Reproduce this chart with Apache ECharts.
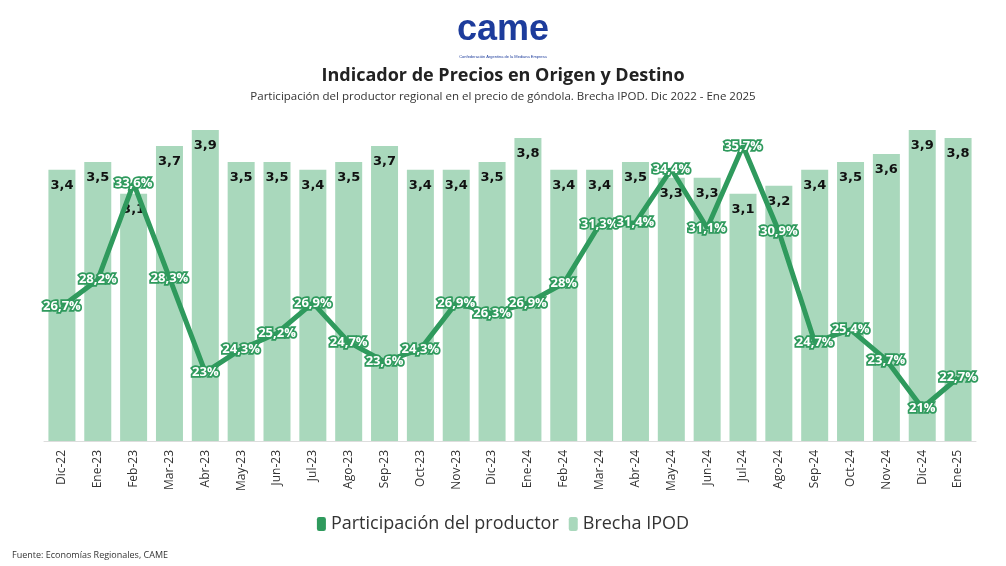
<!DOCTYPE html>
<html>
<head>
<meta charset="utf-8">
<script src="https://cdn.jsdelivr.net/npm/echarts@6/dist/echarts.min.js"></script>
<style>html,body{margin:0;padding:0;background:#fff}#c{width:1006px;height:566px}</style>
</head>
<body>
<div id="c"></div>
<script>
const categories = ["Dic-22","Ene-23","Feb-23","Mar-23","Abr-23","May-23","Jun-23","Jul-23","Ago-23","Sep-23","Oct-23","Nov-23","Dic-23","Ene-24","Feb-24","Mar-24","Abr-24","May-24","Jun-24","Jul-24","Ago-24","Sep-24","Oct-24","Nov-24","Dic-24","Ene-25"];
const brechaIPOD = [3.4,3.5,3.1,3.7,3.9,3.5,3.5,3.4,3.5,3.7,3.4,3.4,3.5,3.8,3.4,3.4,3.5,3.3,3.3,3.1,3.2,3.4,3.5,3.6,3.9,3.8];
const participacion = [26.7,28.2,33.6,28.3,23,24.3,25.2,26.9,24.7,23.6,24.3,26.9,26.3,26.9,28,31.3,31.4,34.4,31.1,35.7,30.9,24.7,25.4,23.7,21,22.7];

const lineColor = '#2f9a5d';
const barColor = '#a9d8bc';
const fmt = v => String(v).replace('.', ',');

const chart = echarts.init(document.getElementById('c'));
chart.setOption({
  backgroundColor: '#fff',
  animation: false,
  textStyle: { fontFamily: 'Open Sans' },
  title: {
    text: 'Indicador de Precios en Origen y Destino',
    subtext: 'Participación del productor regional en el precio de góndola. Brecha IPOD. Dic 2022 - Ene 2025',
    left: 'center', top: 62, itemGap: 6,
    textStyle: { fontSize: 18, fontWeight: 'bold', color: '#222', fontFamily: 'Open Sans' },
    subtextStyle: { fontSize: 11.5, color: '#333', fontFamily: 'Open Sans' }
  },
  graphic: [
    { type: 'text', left: 'center', top: 12, style: { text: 'came', fontSize: 36, fontWeight: 'bold', fill: '#1d3c9c', fontFamily: 'Liberation Sans', letterSpacing: -2 } },
    { type: 'text', left: 'center', top: 55, style: { text: 'Confederación Argentina de la Mediana Empresa', fontSize: 4, fill: '#1d3c9c' } },
    { type: 'text', left: 12, top: 551, style: { text: 'Fuente: Economías Regionales, CAME', fontSize: 9, fill: '#333', fontFamily: 'Open Sans' } }
  ],
  legend: {
    bottom: 28, left: 'center', itemWidth: 9, itemHeight: 14, itemGap: 10,
    icon: 'roundRect',
    textStyle: { fontSize: 18, color: '#333', fontFamily: 'Open Sans' },
    data: ['Participación del productor', 'Brecha IPOD']
  },
  grid: { left: 44, right: 30, top: 130, bottom: 125 },
  xAxis: {
    type: 'category', data: categories,
    axisLine: { lineStyle: { color: '#ddd' } },
    axisTick: { show: false },
    axisLabel: { rotate: 90, fontSize: 12, color: '#333', margin: 9, fontFamily: 'Open Sans' }
  },
  yAxis: [
    { type: 'value', min: 0, max: 3.9, show: false, splitLine: { show: false } },
    { type: 'value', min: 19.15, max: 36.6, show: false, splitLine: { show: false } }
  ],
  series: [
    {
      name: 'Brecha IPOD', type: 'bar', data: brechaIPOD, barWidth: 27,
      itemStyle: { color: barColor },
      label: { show: true, position: 'insideTop', distance: 9, fontSize: 13, fontWeight: 900, color: '#111', fontFamily: 'DejaVu Sans', formatter: p => fmt(p.value) },
      z: 1
    },
    {
      name: 'Participación del productor', type: 'line', yAxisIndex: 1, data: participacion,
      showSymbol: true, symbol: 'circle', symbolSize: 2,
      lineStyle: { color: lineColor, width: 5 },
      itemStyle: { color: lineColor },
      label: { show: true, position: 'inside', fontSize: 13, fontWeight: 'bold', color: '#fff', textBorderColor: lineColor, textBorderWidth: 3.5, formatter: p => fmt(p.value) + '%' },
      labelLayout: { hideOverlap: false },
      z: 5
    }
  ]
});
</script>
</body>
</html>
